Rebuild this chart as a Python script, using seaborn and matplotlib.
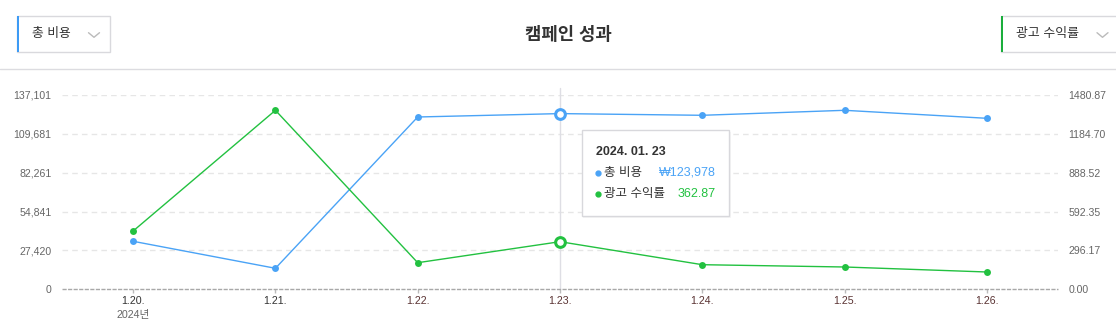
import numpy as np
import pandas as pd
import matplotlib
matplotlib.use("Agg")
import matplotlib.pyplot as plt
import seaborn as sns
from matplotlib.patches import Rectangle
from matplotlib.lines import Line2D

# ---------------- data ----------------
dates = ["1.20.", "1.21.", "1.22.", "1.23.", "1.24.", "1.25.", "1.26."]
total_cost = [33870, 14820, 121580, 123978, 122780, 126300, 120660]
roas = [444.3, 1364.3, 202.7, 362.87, 187.5, 170.0, 131.9]
left_ticks = [0, 27420, 54841, 82261, 109681, 137101]
left_tick_labels = ["0", "27,420", "54,841", "82,261", "109,681", "137,101"]
right_ticks = [0.00, 296.17, 592.35, 888.52, 1184.70, 1480.87]
right_tick_labels = ["0.00", "296.17", "592.35", "888.52", "1184.70", "1480.87"]
year_label = "2024년"
title = "캠페인 성과"
left_select = "총 비용"
right_select = "광고 수익률"
series_names = ["총 비용", "광고 수익률"]
tooltip_title = "2024. 01. 23"
tooltip_values = ["₩123,978", "362.87"]
highlight = 3

BLUE = "#4aa3f6"
GREEN = "#22c140"

sns.set_theme(style="white")
plt.rcParams['font.family'] = ['Liberation Sans', 'Noto Sans CJK KR', 'DejaVu Sans']

W, H = 1116, 324
fig = plt.figure(figsize=(W / 100, H / 100), dpi=100)
fig.patch.set_facecolor("white")


def fx(x):
    return x / W


def fy(y):
    return 1 - y / H


ax = fig.add_axes([fx(62), fy(289.3), fx(1058) - fx(62), 194.3 / H])
ax2 = ax.twinx()
ax.set_facecolor("none")

df = pd.DataFrame({"idx": range(len(dates)), "cost": total_cost, "roas": roas})

# gridlines & crosshair
for t in left_ticks[1:]:
    ax.axhline(t, color="#e6e6e6", lw=1, ls=(0, (4, 3)), zorder=0)
ax.axhline(0, color="#a8a8a8", lw=1, ls=(0, (3, 1)), zorder=1, clip_on=False)
ax.axvline(highlight, ymin=0, ymax=1 + 7 / 194.3, color="#dedee4", lw=1,
           clip_on=False, zorder=0)

sns.lineplot(data=df, x="idx", y="cost", ax=ax, color=BLUE, lw=1,
             marker="o", markersize=5, markeredgewidth=0, zorder=3)
sns.lineplot(data=df, x="idx", y="roas", ax=ax2, color=GREEN, lw=1,
             marker="o", markersize=5, markeredgewidth=0, zorder=3)

ax.plot([highlight], [total_cost[highlight]], "o", ms=7, mfc="white",
        mec=BLUE, mew=2.2, zorder=5)
ax2.plot([highlight], [roas[highlight]], "o", ms=7, mfc="white",
         mec=GREEN, mew=2.2, zorder=5)

ax.set_xlim(-0.5, len(dates) - 0.5)
ax.set_ylim(0, left_ticks[-1])
ax2.set_ylim(0, right_ticks[-1])

ax.set_xticks(range(len(dates)))
ax.set_xticklabels(dates)
for i, lab in enumerate(ax.get_xticklabels()):
    lab.set_color("#333333" if i < 2 else "#5a3333")
ax.set_yticks(left_ticks)
ax.set_yticklabels(left_tick_labels)
ax2.set_yticks(right_ticks)
ax2.set_yticklabels(right_tick_labels)

ax.tick_params(axis="x", length=3, width=1, color="#bbbbbb", pad=2,
               labelsize=7.7, bottom=True)
ax.tick_params(axis="y", length=0, pad=7.5, labelsize=7.6, labelcolor="#666666")
ax2.tick_params(axis="y", length=0, pad=7.5, labelsize=7.6, labelcolor="#666666")
ax.set_xlabel("")
ax.set_ylabel("")
ax2.set_ylabel("")
for a in (ax, ax2):
    for s in a.spines.values():
        s.set_visible(False)

fig.text(fx(133), fy(315), year_label, ha="center", va="center",
         fontsize=7.7, color="#666666")

# ---------------- header ----------------
fig.text(fx(568), fy(36), title, ha="center", va="center", fontsize=12.8,
         fontweight="bold", color="#333333")
fig.add_artist(Line2D([0, 1], [fy(69.3), fy(69.3)], transform=fig.transFigure,
                      color="#dcdce0", lw=1))

# left select
fig.add_artist(Rectangle((fx(17), fy(51.7)), fx(109.7) - fx(17), 36 / H,
                         transform=fig.transFigure, fc="white", ec="#d9d9dd", lw=1))
fig.add_artist(Rectangle((fx(17), fy(51.7)), 2 / W, 36 / H,
                         transform=fig.transFigure, fc="#3d9bf5", ec="none", lw=0))
fig.text(fx(32), fy(34.3), left_select, ha="left", va="center", fontsize=9.2,
         color="#333333")
fig.add_artist(Line2D([fx(88.5), fx(94), fx(99.5)], [fy(32.7), fy(37.3), fy(32.7)],
                      transform=fig.transFigure, color="#bbbbbb", lw=1))

# right select
fig.add_artist(Rectangle((fx(1001), fy(51.7)), fx(1125) - fx(1001), 36 / H,
                         transform=fig.transFigure, fc="white", ec="#d9d9dd", lw=1,
                         clip_on=False))
fig.add_artist(Rectangle((fx(1001), fy(51.7)), 2 / W, 36 / H,
                         transform=fig.transFigure, fc="#1aae3c", ec="none", lw=0))
fig.text(fx(1016), fy(34.3), right_select, ha="left", va="center", fontsize=9.3,
         color="#333333")
fig.add_artist(Line2D([fx(1097), fx(1102.5), fx(1108)], [fy(32.7), fy(37.3), fy(32.7)],
                      transform=fig.transFigure, color="#bbbbbb", lw=1))

# ---------------- tooltip ----------------
fig.add_artist(Rectangle((fx(583), fy(218)), fx(731) - fx(583), 86 / H,
                         transform=fig.transFigure, fc="#000000", alpha=0.04,
                         ec="none", zorder=8))
fig.add_artist(Rectangle((fx(582), fy(216)), fx(729.3) - fx(582), 86 / H,
                         transform=fig.transFigure, fc="white", ec="#d8d8dc",
                         lw=1, zorder=9))
fig.text(fx(596), fy(151.7), tooltip_title, ha="left", va="center", fontsize=9,
         fontweight="bold", color="#333333", zorder=10)
for j, (name, val, col) in enumerate(zip(series_names, tooltip_values, [BLUE, GREEN])):
    yy = 172.7 + j * 21.5
    fig.add_artist(Line2D([fx(597.5)], [fy(yy)], transform=fig.transFigure,
                          marker="o", ms=3.5, color=col, lw=0, zorder=10))
    fig.text(fx(604), fy(yy), name, ha="left", va="center", fontsize=9,
             color="#333333", zorder=10)
    fig.text(fx(716), fy(yy), val, ha="right", va="center", fontsize=9,
             color=col, zorder=10)

fig.savefig("out.png", dpi=100, facecolor="white")
